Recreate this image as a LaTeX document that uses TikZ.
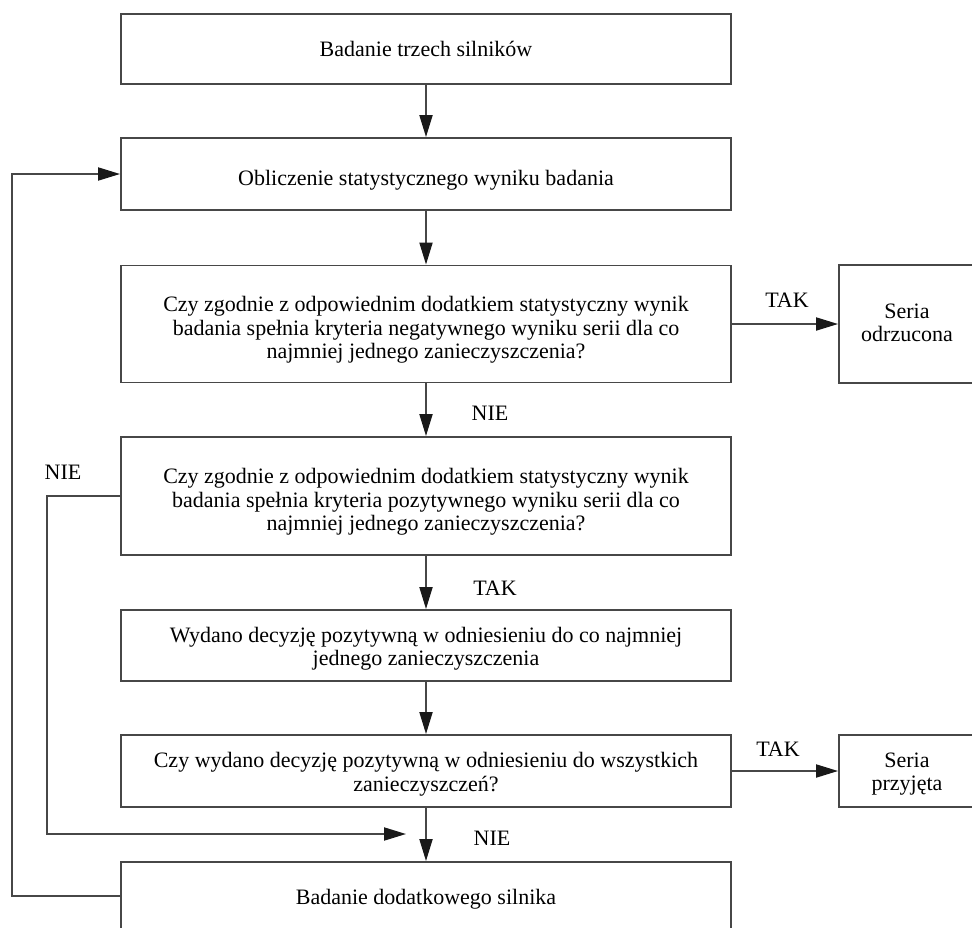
\documentclass[tikz,border=0pt]{standalone}
\usepackage{fontspec}
\setmainfont{Liberation Serif}
\usetikzlibrary{arrows.meta}
\begin{document}
\begin{tikzpicture}[x=1pt,y=-1pt,
  every node/.style={font=\fontsize{22}{23.5}\selectfont},
  box/.style={draw=black!72, line width=1.9pt, rectangle, minimum width=610pt, inner sep=0pt},
  sidebox/.style={draw=black!72, line width=1.9pt, rectangle, minimum width=136pt, inner sep=0pt},
  boxtext/.style={align=center, inner sep=0pt},
  flow/.style={draw=black!72, line width=1.9pt, -{Triangle[length=22pt,width=13pt,color=black!90]}},
  tag/.style={inner sep=0pt}]
\clip (0,0) rectangle (972,927);
\fill[white] (0,0) rectangle (972,927);

% main column
\node[box, minimum height=70pt,
  label={[boxtext]center:Badanie trzech silników}] (b1) at (426,49) {};
\node[box, minimum height=72pt,
  label={[boxtext, yshift=-6pt]center:Obliczenie statystycznego wyniku badania}] (b2) at (426,174) {};
\node[box, minimum height=117pt,
  label={[boxtext, yshift=-6pt]center:{Czy zgodnie z odpowiednim dodatkiem statystyczny wynik\\badania spełnia kryteria negatywnego wyniku serii dla co\\najmniej jednego zanieczyszczenia?}}] (b3) at (426,324) {};
\node[box, minimum height=118pt,
  label={[boxtext, yshift=-6pt]center:{Czy zgodnie z odpowiednim dodatkiem statystyczny wynik\\badania spełnia kryteria pozytywnego wyniku serii dla co\\najmniej jednego zanieczyszczenia?}}] (b4) at (426,496) {};
\node[box, minimum height=71pt,
  label={[boxtext, yshift=-3pt]center:{Wydano decyzję pozytywną w odniesieniu do co najmniej\\jednego zanieczyszczenia}}] (b5) at (426,645.5) {};
\node[box, minimum height=72pt,
  label={[boxtext, yshift=-3pt]center:{Czy wydano decyzję pozytywną w odniesieniu do wszystkich\\zanieczyszczeń?}}] (b6) at (426,771) {};
\node[box, minimum height=68pt,
  label={[boxtext, yshift=-3pt]center:Badanie dodatkowego silnika}] (b7) at (426,896) {};

% outcome boxes
\node[sidebox, minimum height=118pt,
  label={[boxtext, yshift=1pt]center:{Seria\\odrzucona}}] (odrz) at (907,324) {};
\node[sidebox, minimum height=72pt,
  label={[boxtext, yshift=-3pt]center:{Seria\\przyjęta}}] (przyj) at (907,771) {};

% main flow
\draw[flow] (b1) -- (b2);
\draw[flow] (b2) -- (b3);
\draw[flow] (b3) -- (b4);
\draw[flow] (b4) -- (b5);
\draw[flow] (b5) -- (b6);
\draw[flow] (b6) -- (b7);
\draw[flow] (b3) -- (odrz);
\draw[flow] (b6) -- (przyj);

% "NIE" branch of the positive-result test
\coordinate (nieL) at (47,496);
\coordinate (nieEnd) at (406,834);
\draw[flow] (b4.west) -- (nieL) |- (nieEnd);

% loop back after testing an additional engine
\coordinate (loopL) at (12,896);
\draw[flow] (b7.west) -- (loopL) |- (b2.west);

% branch labels
\node[tag] (t1) at (490,413) {NIE};
\node[tag] (t2) at (495,588) {TAK};
\node[tag] (t3) at (492,838) {NIE};
\node[tag] (t4) at (787,300) {TAK};
\node[tag] (t5) at (778,749) {TAK};
\node[tag] (t6) at (63,472)  {NIE};
\end{tikzpicture}
\end{document}
